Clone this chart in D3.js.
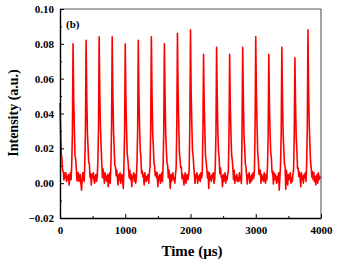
<!DOCTYPE html>
<html>
<head>
<meta charset="utf-8">
<script src="https://cdn.jsdelivr.net/npm/d3@7"></script>
<style>
  body { margin: 0; background: #fff; }
  text { font-family: "Liberation Serif", "Times New Roman", serif; font-weight: bold; }
</style>
</head>
<body>
<svg width="340" height="261"></svg>
<script>
const chart = d3.select("svg");

// pulse times (us) and peak heights (a.u.)
const peakTimes = [0, 200, 400, 600, 800, 1000, 1200, 1400, 1600, 1800, 2000,
                   2200, 2400, 2600, 2800, 3000, 3200, 3400, 3600, 3800];
const peakHeights = [0.046, 0.080, 0.082, 0.084, 0.084, 0.080, 0.082, 0.084, 0.080, 0.086, 0.088,
                     0.074, 0.078, 0.074, 0.078, 0.084, 0.074, 0.078, 0.072, 0.088];

// pulse profile, one value per 10 us step from 2 steps before the peak
const pulseShape = [0.08, 0.35, 1, 0.6, 0.35, 0.2, 0.12, 0.07, 0.04, 0.02];
const SHAPE_OFFSET = 2;

// baseline noise, 1e-3 a.u., one value per 10 us, 0 .. 4000 us
const noise = [
  3,5,1,6,2,4,0,5,3,6,1,4,2,5,-1,3,6,2,5,1,
  4,2,6,0,5,3,-2,4,6,1,3,5,0,-4,2,6,3,1,5,2,
  6,3,1,5,2,6,0,4,-1,5,3,6,2,0,4,5,1,3,6,2,
  5,1,4,6,2,-3,5,3,0,6,2,4,1,5,-2,3,6,0,4,2,
  3,6,2,5,0,4,1,6,3,-1,5,2,6,0,3,5,1,-3,4,2,
  6,2,4,1,5,3,0,6,2,5,-2,4,3,6,1,5,0,3,6,2,
  4,1,5,3,6,0,4,2,5,-1,6,3,1,4,2,5,0,6,3,1,
  5,3,0,6,2,4,1,5,3,6,-2,4,2,5,0,3,6,1,4,2,
  3,6,1,4,2,5,0,6,3,-3,5,1,4,6,2,3,0,5,2,4,
  6,2,5,0,4,3,6,1,5,2,-1,4,6,0,3,5,2,4,1,6,
  3,0,5,2,6,4,1,-2,5,3,6,0,4,2,5,1,6,3,0,4,
  5,2,6,1,4,3,0,5,-3,6,2,4,1,5,3,6,0,2,4,1,
  4,6,1,3,5,0,6,2,4,-2,5,1,3,6,0,4,2,5,1,3,
  6,1,4,2,5,3,-1,6,0,4,2,5,1,3,1,6,2,4,-7,5,
  3,5,0,6,2,4,1,-2,5,3,6,0,4,1,5,2,6,3,1,4,
  5,2,6,1,3,-1,4,6,0,5,2,4,1,6,3,0,5,2,4,1,
  4,0,5,3,6,1,4,-2,6,2,5,3,0,4,1,6,-4,3,5,2,
  6,3,1,5,2,4,-7,6,3,-1,5,2,4,6,0,3,1,5,2,4,
  3,5,2,6,0,4,1,5,3,-2,6,2,4,0,5,3,6,1,4,2,
  5,1,4,6,2,3,0,5,2,6,1,4,-1,3,5,0,6,2,4,3,
  3
];
const STEP = 10;

const xTicks = [0, 1000, 2000, 3000, 4000];
const yTicks = [-0.02, 0.00, 0.02, 0.04, 0.06, 0.08, 0.10];

const M = { left: 60, right: 321, top: 9, bottom: 218 };

const x = d3.scaleLinear().domain([0, 4000]).range([M.left, M.right]);
const y = d3.scaleLinear().domain([-0.02, 0.10]).range([M.bottom, M.top]);

// build the trace
let signal = noise.map((n, i) => ({ t: i * STEP, v: n / 1000 }));
peakTimes.forEach((pt, k) => {
    let c = pt / STEP;
    pulseShape.forEach((s, j) => {
        let i = c - SHAPE_OFFSET + j;
        if (i < 0 || i >= signal.length) return;
        signal[i].v = signal[i].v * (1 - s) + peakHeights[k] * s;
    });
});

const line = d3.line().x(d => x(d.t)).y(d => y(d.v));

chart.append("path")
     .datum(signal)
     .attr("d", line)
     .attr("fill", "none")
     .attr("stroke", "#ff0000")
     .attr("stroke-width", 1.6)
     .attr("stroke-linejoin", "round");

// frame
chart.append("line").attr("x1", M.left).attr("x2", M.right).attr("y1", M.top).attr("y2", M.top)
     .attr("stroke", "#555").attr("stroke-width", 1);
chart.append("line").attr("x1", M.right).attr("x2", M.right).attr("y1", M.top).attr("y2", M.bottom)
     .attr("stroke", "#444").attr("stroke-width", 1);

// axes
const xAxis = chart.append("g").attr("transform", `translate(0,${M.bottom})`)
     .call(d3.axisBottom(x).tickValues(xTicks).tickFormat(d3.format("d")).tickSizeInner(-4).tickSizeOuter(0).tickPadding(8));
const xMinor = chart.append("g").attr("transform", `translate(0,${M.bottom})`)
     .call(d3.axisBottom(x).tickValues([500, 1500, 2500, 3500]).tickFormat("").tickSizeInner(-2).tickSizeOuter(0));
xMinor.select(".domain").remove();

const yAxis = chart.append("g").attr("transform", `translate(${M.left},0)`)
     .call(d3.axisLeft(y).tickValues(yTicks).tickFormat(d3.format(".2f")).tickSizeInner(-4).tickSizeOuter(0).tickPadding(6));
const yMinor = chart.append("g").attr("transform", `translate(${M.left},0)`)
     .call(d3.axisLeft(y).tickValues([-0.01, 0.01, 0.03, 0.05, 0.07, 0.09]).tickFormat("").tickSizeInner(-2).tickSizeOuter(0));
yMinor.select(".domain").remove();

chart.selectAll(".domain").attr("stroke", "#000").attr("stroke-width", 1.4);
chart.selectAll(".tick line").attr("stroke", "#000").attr("stroke-width", 1);
xAxis.selectAll("text").attr("font-size", 11).attr("font-family", "Liberation Serif").attr("font-weight", "bold");
yAxis.selectAll("text").attr("font-size", 11).attr("font-family", "Liberation Serif").attr("font-weight", "bold");

// titles
chart.append("text").attr("x", 192).attr("y", 256).attr("text-anchor", "middle")
     .attr("font-size", 15).text("Time (μs)");
chart.append("text").attr("transform", "translate(18,113) rotate(-90)").attr("text-anchor", "middle")
     .attr("font-size", 14).text("Intensity (a.u.)");
chart.append("text").attr("x", 66).attr("y", 28).attr("font-size", 11).text("(b)");
</script>
</body>
</html>
